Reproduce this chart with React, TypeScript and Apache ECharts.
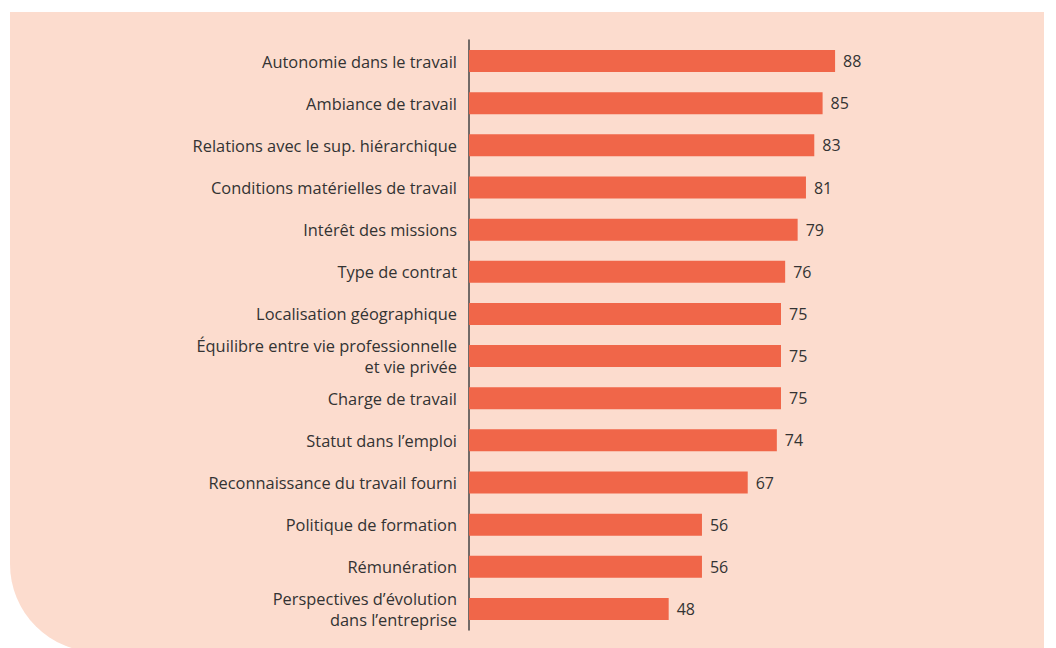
import React, { useEffect, useRef } from "react";
import * as echarts from "echarts";

const categories = [
  "Autonomie dans le travail",
  "Ambiance de travail",
  "Relations avec le sup. hiérarchique",
  "Conditions matérielles de travail",
  "Intérêt des missions",
  "Type de contrat",
  "Localisation géographique",
  "Équilibre entre vie professionnelle\net vie privée",
  "Charge de travail",
  "Statut dans l’emploi",
  "Reconnaissance du travail fourni",
  "Politique de formation",
  "Rémunération",
  "Perspectives d’évolution\ndans l’entreprise",
];
const values = [88, 85, 83, 81, 79, 76, 75, 75, 75, 74, 67, 56, 56, 48];

export default function App() {
  const ref = useRef<HTMLDivElement>(null);
  useEffect(() => {
    if (!ref.current) return;
    const chart = echarts.init(ref.current, null, { renderer: "svg" });
    const font = "Open Sans";
    chart.setOption({
      animation: false,
      backgroundColor: "#ffffff",
      graphic: [
        {
          type: "rect",
          z: -10,
          silent: true,
          shape: { x: 10, y: 12, width: 1034, height: 640, r: [0, 0, 0, 88] },
          style: { fill: "#FCDCCE" },
        },
      ],
      grid: { left: 469, top: 40, width: 416, height: 590, containLabel: false },
      xAxis: {
        type: "value",
        min: 0,
        max: 100,
        show: false,
      },
      yAxis: {
        type: "category",
        inverse: true,
        data: categories,
        axisLine: { show: true, lineStyle: { color: "#444", width: 1.5 } },
        axisTick: { show: false },
        axisLabel: {
          margin: 12,
          color: "#333",
          fontFamily: font,
          fontSize: 16.4,
          lineHeight: 21,
          align: "right",
        },
      },
      series: [
        {
          type: "bar",
          data: values,
          barWidth: 22,
          itemStyle: { color: "#F06649" },
          label: {
            show: true,
            position: "right",
            distance: 8,
            color: "#333",
            fontFamily: font,
            fontSize: 16,
          },
        },
      ],
    });
    return () => chart.dispose();
  }, []);
  return (
    <div
      ref={ref}
      style={{ position: "absolute", left: 0, top: 0, width: 1056, height: 648 }}
    />
  );
}
